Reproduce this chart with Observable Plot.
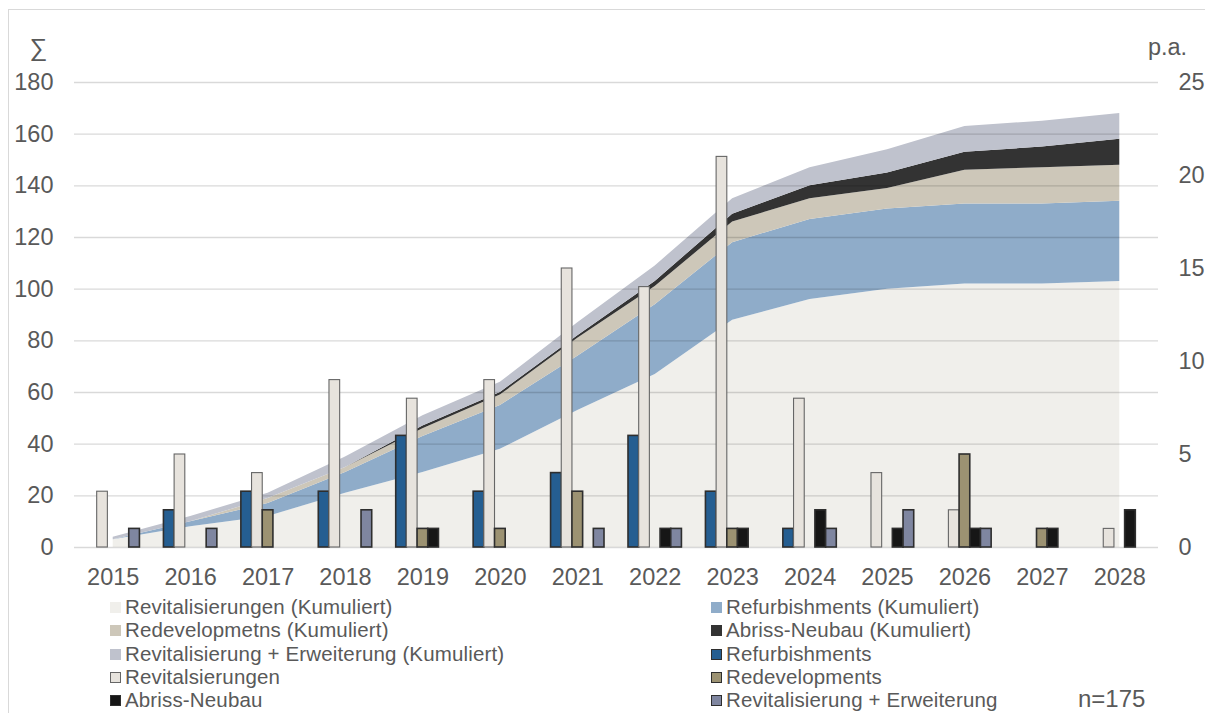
<!DOCTYPE html>
<html>
<head>
<meta charset="utf-8">
<script src="https://cdn.jsdelivr.net/npm/d3@7"></script>
<script src="https://cdn.jsdelivr.net/npm/@observablehq/plot@0.6"></script>
<style>
  html, body { margin: 0; padding: 0; background: #fff; }
  #wrap { position: relative; width: 1205px; height: 713px; overflow: hidden; font-family: "Liberation Sans", Arial, sans-serif; }
  #frame { position: absolute; left: 8px; top: 9px; right: -10px; bottom: -10px; border-top: 1.5px solid #d9d9d9; border-left: 1.5px solid #d9d9d9; }
  #chart { position: absolute; left: 0; top: 0; }
  .lg { position: absolute; display: flex; align-items: center; font-size: 20.5px; color: #595959; white-space: nowrap; line-height: 1; letter-spacing: 0.15px; }
  .sw { width: 11px; height: 11px; box-sizing: border-box; margin-right: 4px; flex: none; }
  #n { position: absolute; left: 1078px; top: 687px; font-size: 24px; line-height: 1; color: #595959; }
</style>
</head>
<body>
<div id="wrap">
  <div id="frame"></div>
  <div id="chart"></div>
  <div id="legend"></div>
  <div id="n">n=175</div>
</div>
<script>
// ---- Data ----
const years = [2015, 2016, 2017, 2018, 2019, 2020, 2021, 2022, 2023, 2024, 2025, 2026, 2027, 2028];

// per annum (right axis, p.a.)
const refurbishments    = [0, 2, 3, 3, 6, 3, 4, 6, 3, 1, 0, 0, 0, 0];
const revitalisierungen = [3, 5, 4, 9, 8, 9, 15, 14, 21, 8, 4, 2, 0, 1];
const redevelopments    = [0, 0, 2, 0, 1, 1, 3, 0, 1, 0, 0, 5, 1, 0];
const abrissNeubau      = [0, 0, 0, 0, 1, 0, 0, 1, 1, 2, 1, 1, 1, 2];
const revitErweiterung  = [1, 1, 0, 2, 0, 0, 1, 1, 0, 1, 2, 1, 0, 0];

// cumulative (left axis, ∑)
const revitKum     = [3, 8, 12, 21, 29, 38, 53, 67, 88, 96, 100, 102, 102, 103];
const refurbKum    = [0, 2, 5, 8, 14, 17, 21, 27, 30, 31, 31, 31, 31, 31];
const redevKum     = [0, 0, 2, 2, 3, 4, 7, 7, 8, 8, 8, 13, 14, 14];
const abrissKum    = [0, 0, 0, 0, 1, 1, 1, 2, 3, 5, 6, 7, 8, 10];
const revitErwKum  = [1, 2, 2, 4, 4, 4, 5, 6, 6, 7, 9, 10, 10, 10];

const leftTicks  = [0, 20, 40, 60, 80, 100, 120, 140, 160, 180];
const rightTicks = [0, 5, 10, 15, 20, 25];

const areaSeries = [
  {name: "Revitalisierungen (Kumuliert)", values: revitKum, color: "#f0efeb"},
  {name: "Refurbishments (Kumuliert)", values: refurbKum, color: "#8facc9"},
  {name: "Redevelopmetns (Kumuliert)", values: redevKum, color: "#cdc7b9"},
  {name: "Abriss-Neubau (Kumuliert)", values: abrissKum, color: "#333333"},
  {name: "Revitalisierung + Erweiterung (Kumuliert)", values: revitErwKum, color: "#bfc2cd"}
];
const barSeries = [
  {name: "Refurbishments", values: refurbishments, color: "#255e91", stroke: "#2e2e2e", sw: 1.6},
  {name: "Revitalsierungen", values: revitalisierungen, color: "#e7e3dd", stroke: "#666", sw: 1.1},
  {name: "Redevelopments", values: redevelopments, color: "#9c9272", stroke: "#2e2e2e", sw: 1.6},
  {name: "Abriss-Neubau", values: abrissNeubau, color: "#161616", stroke: "#2e2e2e", sw: 1.6},
  {name: "Revitalisierung + Erweiterung", values: revitErweiterung, color: "#7f86a0", stroke: "#2e2e2e", sw: 1.6}
];

// ---- Build tables ----
const areaData = areaSeries.flatMap(s => years.map((y, i) => ({year: y, value: s.values[i], series: s.name})));

const leftMax = 180, rightMax = 25, k = leftMax / rightMax;  // right axis mapped onto left scale
const slot = 0.138; // bar width in year units

const barMarks = barSeries.map((s, j) => {
  const data = years.map((y, i) => ({year: y, value: s.values[i]})).filter(d => d.value > 0);
  return Plot.rectY(data, {
    x1: d => d.year + (j - 2.5) * slot,
    x2: d => d.year + (j - 1.5) * slot,
    y1: 0,
    y2: d => d.value * k,
    fill: s.color,
    stroke: s.stroke,
    strokeWidth: s.sw,
    inset: 0
  });
});

const chart = Plot.plot({
  width: 1205,
  height: 590,
  marginLeft: 74,
  marginRight: 47,
  marginTop: 82,
  marginBottom: 43,
  style: {fontFamily: "'Liberation Sans', Arial, sans-serif", fontSize: "23.5px", color: "#595959", background: "transparent"},
  x: {type: "linear", domain: [2014.5, 2028.5]},
  y: {domain: [0, leftMax]},
  color: {domain: areaSeries.map(s => s.name), range: areaSeries.map(s => s.color)},
  marks: [
    Plot.areaY(areaData, {x: "year", y: "value", z: "series", fill: "series", order: null}),
    Plot.gridY(leftTicks, {stroke: "#000", strokeOpacity: 0.15, strokeWidth: 1.4}),
    ...barMarks,
    Plot.axisY(leftTicks, {anchor: "left", tickSize: 0, tickPadding: 21, label: null, fill: "#595959"}),
    Plot.axisY(rightTicks.map(v => v * k), {anchor: "right", tickSize: 0, tickPadding: 20, label: null, fill: "#595959",
      tickFormat: v => String(Math.round(v / k))}),
    Plot.axisX(years, {anchor: "bottom", tickSize: 0, tickPadding: 21, label: null, tickFormat: d => String(d), fill: "#595959"}),
    Plot.text(["∑"], {frameAnchor: "top-left", dx: -36, dy: -44, text: d => d, fontSize: 25, fill: "#595959", textAnchor: "middle"}),
    Plot.text(["p.a."], {frameAnchor: "top-right", dx: 9, dy: -44, text: d => d, fontSize: 23.5, fill: "#595959", textAnchor: "middle"})
  ]
});
document.getElementById("chart").appendChild(chart);

// ---- Legend ----
const legendItems = [
  {label: areaSeries[0].name, fill: areaSeries[0].color, border: null, col: 0, row: 0},
  {label: areaSeries[1].name, fill: areaSeries[1].color, border: null, col: 1, row: 0},
  {label: areaSeries[2].name, fill: areaSeries[2].color, border: null, col: 0, row: 1},
  {label: areaSeries[3].name, fill: areaSeries[3].color, border: null, col: 1, row: 1},
  {label: areaSeries[4].name, fill: areaSeries[4].color, border: null, col: 0, row: 2},
  {label: barSeries[0].name, fill: barSeries[0].color, border: "#2e2e2e", col: 1, row: 2},
  {label: barSeries[1].name, fill: barSeries[1].color, border: "#666", col: 0, row: 3},
  {label: barSeries[2].name, fill: barSeries[2].color, border: "#2e2e2e", col: 1, row: 3},
  {label: barSeries[3].name, fill: barSeries[3].color, border: "#2e2e2e", col: 0, row: 4},
  {label: barSeries[4].name, fill: barSeries[4].color, border: "#2e2e2e", col: 1, row: 4}
];
const legend = document.getElementById("legend");
const colX = [110, 711];
const rowY = [607, 630.5, 654, 677.5, 700.5];
for (const it of legendItems) {
  const el = document.createElement("div");
  el.className = "lg";
  el.style.left = colX[it.col] + "px";
  el.style.top = (rowY[it.row] - 10) + "px";
  el.style.height = "20px";
  const sw = document.createElement("span");
  sw.className = "sw";
  sw.style.background = it.fill;
  if (it.border) sw.style.border = "1.5px solid " + it.border;
  const tx = document.createElement("span");
  tx.textContent = it.label;
  el.appendChild(sw);
  el.appendChild(tx);
  legend.appendChild(el);
}
</script>
</body>
</html>
